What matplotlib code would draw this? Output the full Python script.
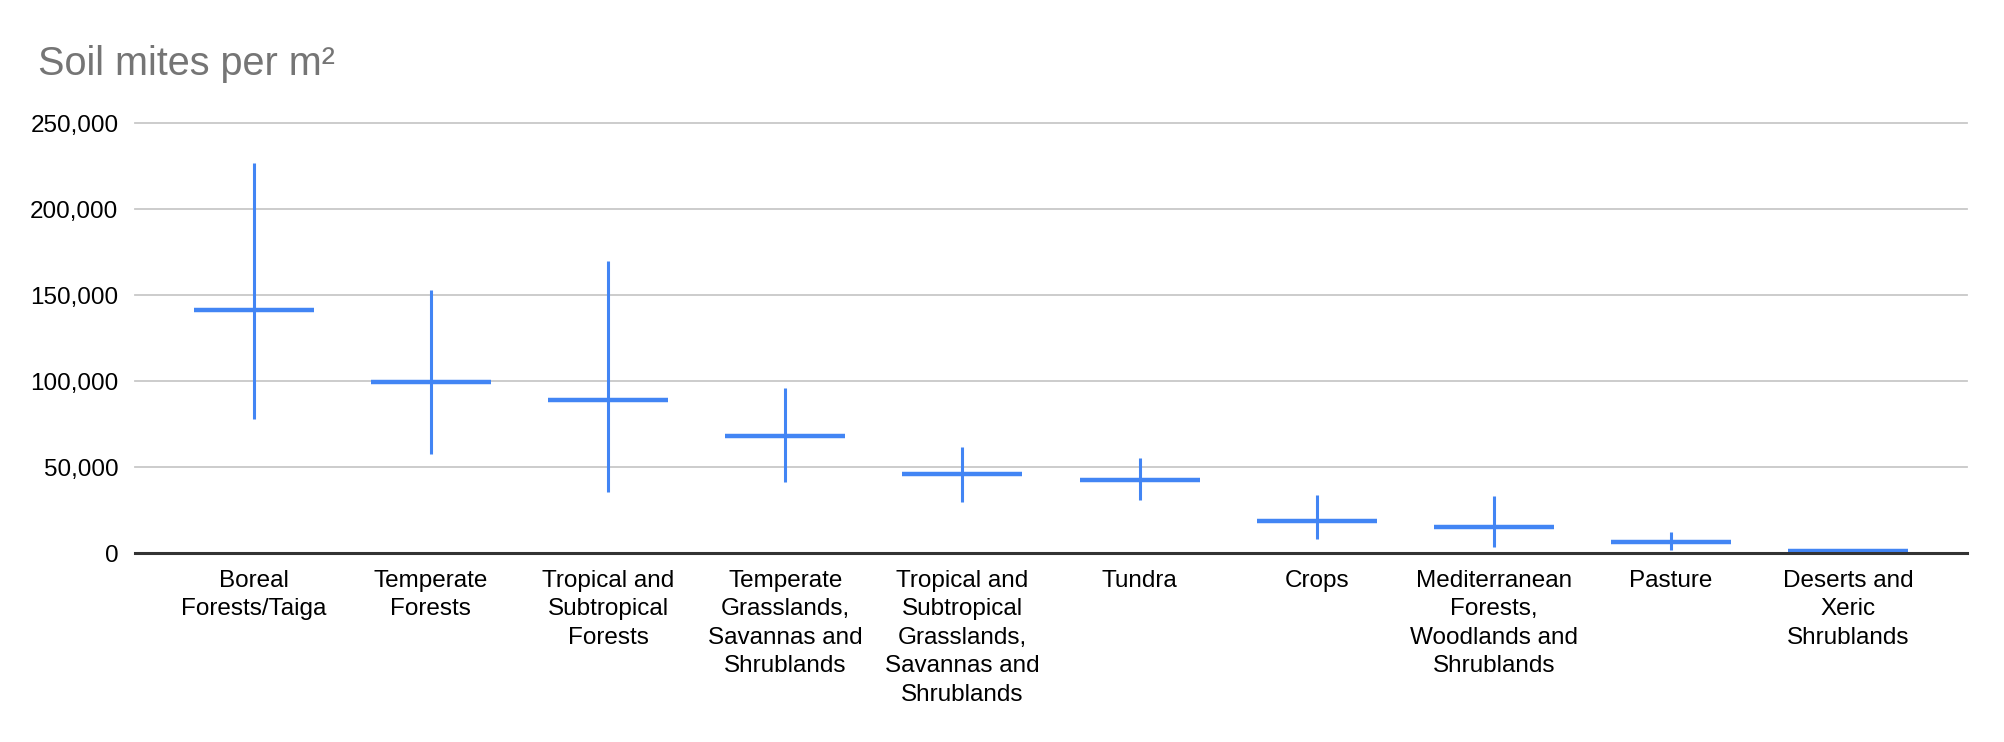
import numpy as np
import matplotlib.pyplot as plt
from matplotlib.ticker import FuncFormatter

plt.rcParams['font.family'] = ['Liberation Sans', 'DejaVu Sans']

# Biome categories and soil mite densities (per m²)
biomes = [
    'Boreal\nForests/Taiga',
    'Temperate\nForests',
    'Tropical and\nSubtropical\nForests',
    'Temperate\nGrasslands,\nSavannas and\nShrublands',
    'Tropical and\nSubtropical\nGrasslands,\nSavannas and\nShrublands',
    'Tundra',
    'Crops',
    'Mediterranean\nForests,\nWoodlands and\nShrublands',
    'Pasture',
    'Deserts and\nXeric\nShrublands',
]
mean_vals = [141000, 99400, 89200, 68000, 45900, 42300, 18400, 15100, 6600, 1200]
low_vals = [77700, 57600, 35700, 41300, 29700, 30800, 8200, 3500, 2000, 700]
high_vals = [226500, 152700, 169600, 95700, 61600, 55100, 33500, 33100, 12200, 1700]

blue = '#4285F4'

fig = plt.figure(figsize=(20.04, 7.42), dpi=100)
ax = fig.add_axes([0.0674, 0.2547, 0.9141, 0.5795])

x = np.arange(len(biomes))
mean = np.array(mean_vals)
yerr = [mean - np.array(low_vals), np.array(high_vals) - mean]

ax.errorbar(x, mean, yerr=yerr, fmt='_', color=blue, ecolor=blue,
            markersize=86, markeredgewidth=3.2, elinewidth=2.2, capsize=0,
            zorder=3)

ax.set_xlim(-0.67, len(biomes) - 1 + 0.67)
ax.set_ylim(0, 250000)
ax.set_yticks(np.arange(0, 250001, 50000))
ax.yaxis.set_major_formatter(FuncFormatter(lambda v, p: f'{int(v):,}'))
ax.set_xticks(x)
ax.set_xticklabels(biomes, linespacing=1.38)

ax.grid(axis='y', color='#c8c8c8', linewidth=1.3, zorder=0)
for gl in ax.get_ygridlines():
    gl.set_clip_on(False)
ax.set_axisbelow(True)
for s in ['top', 'right', 'left']:
    ax.spines[s].set_visible(False)
ax.spines['bottom'].set_color('#333333')
ax.spines['bottom'].set_linewidth(2.2)
ax.spines['bottom'].set_zorder(4)

ax.tick_params(axis='both', length=0, labelsize=17.5, colors='#000000')
ax.tick_params(axis='y', pad=12)
ax.tick_params(axis='x', pad=12)

fig.text(38 / 2004, 1 - 75 / 742, 'Soil mites per m²', fontsize=28.5,
         color='#757575', va='baseline', ha='left')

fig.savefig('out.png', dpi=100, facecolor='white')
